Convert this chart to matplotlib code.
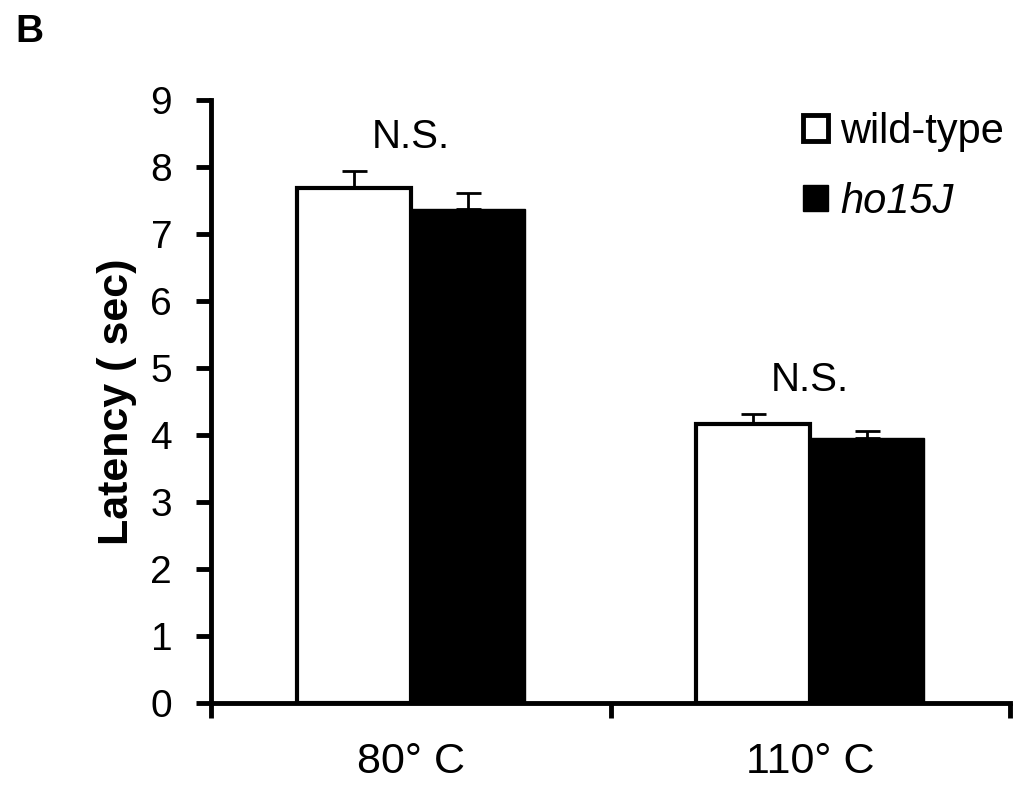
import numpy as np
import matplotlib.pyplot as plt
from matplotlib.patches import Patch

plt.rcParams['font.family'] = ['Liberation Sans', 'DejaVu Sans']

# data
temps = ['80° C', '110° C']
wild_type = [7.68, 4.16]
wild_err = [0.26, 0.15]
ho15j = [7.38, 3.95]
ho15j_err = [0.23, 0.11]
sig = ['N.S.', 'N.S.']

fig = plt.figure(figsize=(10.32, 7.87), dpi=100)
ax = fig.add_axes([0.2045, 0.1067, 0.7742, 0.7663])

x = np.arange(len(temps))
w = 0.285
ax.bar(x - w/2, wild_type, w, color='white', edgecolor='black', linewidth=3, zorder=3)
ax.bar(x + w/2, ho15j, w, color='black', edgecolor='black', linewidth=1, zorder=3)
# plus-only error bars
ax.errorbar(x - w/2, wild_type, yerr=[np.zeros(2), wild_err], fmt='none',
            ecolor='black', elinewidth=2, capsize=9, capthick=2, zorder=2)
ax.errorbar(x + w/2, ho15j, yerr=[np.zeros(2), ho15j_err], fmt='none',
            ecolor='black', elinewidth=2, capsize=9, capthick=2, zorder=2)

for i in range(len(temps)):
    top = wild_type[i] + wild_err[i]
    ax.text(x[i], top + 0.22, sig[i], ha='center', va='bottom', fontsize=29)

ax.set_xlim(-0.5, 1.5)
ax.set_ylim(0, 9)
ax.set_yticks(range(0, 10))
ax.tick_params(axis='y', labelsize=28, width=3.5, length=11, pad=17)
ax.set_xticks(x)
ax.set_xticklabels(temps, fontsize=31)
ax.tick_params(axis='x', length=0, pad=28)
ax.set_xticks([-0.5, 0.5, 1.5], minor=True)
ax.tick_params(axis='x', which='minor', length=11, width=3.5)

for s in ['top', 'right']:
    ax.spines[s].set_visible(False)
for s in ['left', 'bottom']:
    ax.spines[s].set_linewidth(3.5)

ax.set_ylabel('Latency ( sec)', fontsize=31, fontweight='bold', labelpad=10)

handles = [Patch(facecolor='white', edgecolor='black', linewidth=3.5, label='wild-type'),
           Patch(facecolor='black', edgecolor='black', label='ho15J')]
leg = fig.legend(handles=handles, loc='upper left', bbox_to_anchor=(0.778, 0.858),
                 frameon=False, fontsize=30, handlelength=0.6, handleheight=0.6,
                 handletextpad=0.3, labelspacing=0.72, borderpad=0, borderaxespad=0)
leg.get_texts()[1].set_style('italic')

fig.text(0.0145, 0.947, 'B', fontsize=28, fontweight='bold', va='baseline')

plt.savefig('out.png', dpi=100)
